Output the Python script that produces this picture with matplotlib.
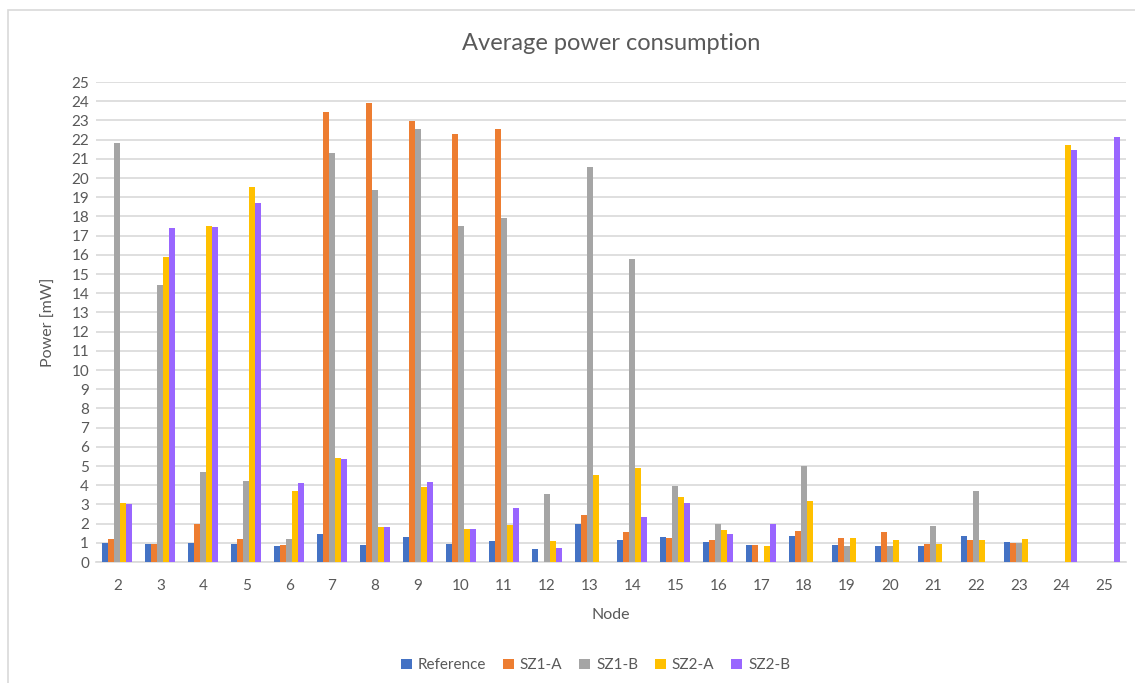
import numpy as np
import matplotlib
matplotlib.use("Agg")
import matplotlib.pyplot as plt
from matplotlib.patches import Rectangle

# data (0 = no bar)
nodes = [str(n) for n in range(2, 26)]
series = ["Reference", "SZ1-A", "SZ1-B", "SZ2-A", "SZ2-B"]
reference = [1.0, 0.94, 0.99, 0.94, 0.82, 1.44, 0.87, 1.28, 0.94, 1.08, 0.66, 1.96,
             1.13, 1.28, 1.02, 0.87, 1.34, 0.87, 0.82, 0.82, 1.34, 1.02, 0, 0]
sz1_a = [1.18, 0.94, 1.98, 1.18, 0.87, 23.42, 23.9, 22.95, 22.27, 22.53, 0, 2.43,
         1.55, 1.23, 1.13, 0.87, 1.6, 1.23, 1.55, 0.92, 1.13, 0.97, 0, 0]
sz1_b = [21.82, 14.41, 4.67, 4.2, 1.18, 21.28, 19.36, 22.53, 17.48, 17.9, 3.52, 20.56,
         15.76, 3.94, 1.96, 0, 4.98, 0.82, 0.82, 1.86, 3.68, 0.97, 0, 0]
sz2_a = [3.06, 15.87, 17.48, 19.51, 3.68, 5.4, 1.81, 3.89, 1.7, 1.91, 1.08, 4.51,
         4.88, 3.37, 1.65, 0.82, 3.16, 1.23, 1.13, 0.92, 1.13, 1.18, 21.7, 0]
sz2_b = [3.0, 17.38, 17.43, 18.68, 4.1, 5.35, 1.81, 4.15, 1.7, 2.8, 0.71, 0,
         2.33, 3.06, 1.44, 1.96, 0, 0, 0, 0, 0, 0, 21.44, 22.12]
colors = ["#4472C4", "#ED7D31", "#A5A5A5", "#FFC000", "#9966FF"]

plt.rcParams['font.family'] = ['Lato', 'DejaVu Sans']
txt = "#595959"

fig = plt.figure(figsize=(11.35, 6.83), dpi=100)
fig.patches.append(Rectangle((8 / 1135, -0.01), 1.2, 1 - 10 / 683 + 0.01,
                             transform=fig.transFigure, fill=False,
                             edgecolor="#D9D9D9", lw=1.2))
ax = fig.add_axes([96 / 1135, 1 - 562 / 683, 1030 / 1135, 480 / 683])

x = np.arange(len(nodes))
w = 0.14
data = [reference, sz1_a, sz1_b, sz2_a, sz2_b]
for i, (name, vals) in enumerate(zip(series, data)):
    ax.bar(x + (i - 2) * w, vals, w, color=colors[i], label=name, zorder=3)

ax.set_xlim(-0.5, len(nodes) - 0.5)
ax.set_ylim(0, 25)
ax.set_yticks(range(0, 26))
ax.set_xticks(x)
ax.set_xticklabels(nodes)
ax.grid(axis="y", color="#D9D9D9", lw=1.2, zorder=0)
for s in ["top", "right", "left"]:
    ax.spines[s].set_visible(False)
ax.spines["bottom"].set_color("#D9D9D9")
ax.spines["bottom"].set_linewidth(1.2)
ax.tick_params(length=0, labelsize=11, colors=txt, pad=5)
ax.tick_params(axis="x", pad=12)

ax.set_title("Average power consumption", fontsize=17, color=txt, pad=23)
ax.set_ylabel("Power [mW]", fontsize=11.5, color=txt, labelpad=11)
ax.set_xlabel("Node", fontsize=11.5, color=txt, labelpad=11)

ax.legend(loc="upper center", bbox_to_anchor=(0.485, -0.172), ncol=5, frameon=False,
          fontsize=11, labelcolor=txt, handlelength=0.7, handleheight=0.7,
          handletextpad=0.4, columnspacing=1.1)

fig.savefig("out.png", dpi=100)
